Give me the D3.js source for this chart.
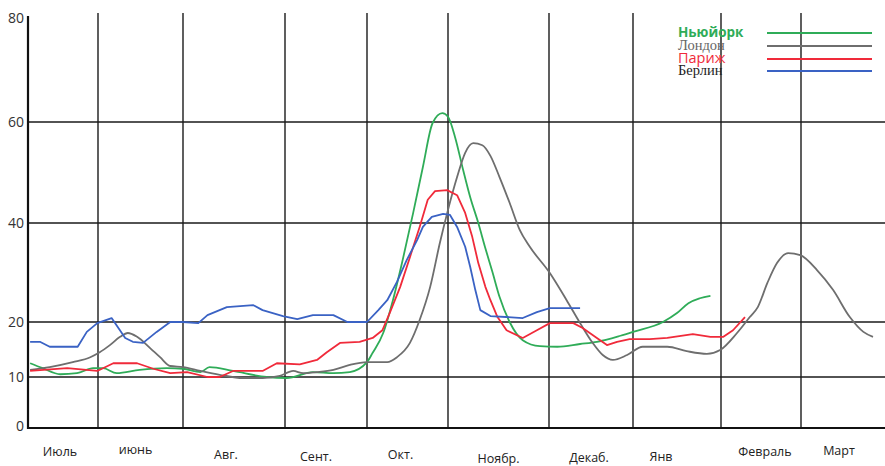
<!DOCTYPE html>
<html>
<head>
<meta charset="utf-8">
<script src="https://cdn.jsdelivr.net/npm/d3@7"></script>
<style>
  html, body { margin: 0; padding: 0; background: #fff; }
  svg { display: block; }
</style>
</head>
<body>
<svg id="chart" width="885" height="466"></svg>
<script>
// ---------- DATA ----------
const months = ["Июль", "июнь", "Авг.", "Сент.", "Окт.", "Ноябр.", "Декаб.", "Янв", "Февраль", "Март"];
const yTicks = [0, 10, 20, 40, 60, 80];
const seriesNames = ["Ньюйорк", "Лондон", "Париж", "Берлин"];

// [month position, value]
const newYork = [[0.03,12.5],[0.21,11.6],[0.46,10.5],[0.70,10.7],[0.93,11.6],[1.06,11.6],[1.22,10.7],[1.49,11.3],[1.81,11.6],[2.00,11.5],[2.17,10.9],[2.26,11.8],[2.49,11.1],[2.82,10],[3.02,9.8],[3.34,10.9],[3.59,10.7],[3.79,10.9],[4.00,12.7],[4.07,14.4],[4.20,18.0],[4.32,24.4],[4.44,32.5],[4.57,42.0],[4.69,51.1],[4.81,59.8],[4.93,61.7],[5.00,61.0],[5.07,57.0],[5.15,50.5],[5.22,45.1],[5.30,40],[5.37,34.9],[5.44,30.1],[5.51,25.1],[5.61,20],[5.74,16.7],[5.91,15.6],[6.10,15.5],[6.37,16.0],[6.57,16.4],[6.85,17.5],[7.00,18.2],[7.34,20],[7.50,21.8],[7.63,23.8],[7.76,24.8],[7.88,25.3]];
const london = [[0.03,11.3],[0.31,11.8],[0.64,12.7],[0.89,13.6],[1.02,14.5],[1.14,15.8],[1.26,17.3],[1.35,18.0],[1.46,17.3],[1.61,15.3],[1.73,13.6],[1.85,12.0],[2.00,11.8],[2.17,11.1],[2.36,10.4],[2.59,9.8],[2.78,9.8],[2.95,10.2],[3.10,11.1],[3.22,10.7],[3.39,10.9],[3.59,11.3],[3.79,12.2],[4.00,12.7],[4.25,12.7],[4.37,13.6],[4.53,16.2],[4.65,20.4],[4.78,27.1],[4.90,36.0],[5.00,42.6],[5.09,49.1],[5.17,53.9],[5.25,55.8],[5.34,55.4],[5.42,53.3],[5.51,49.1],[5.61,44.0],[5.71,38.6],[5.81,35.2],[6.01,29.9],[6.21,24.4],[6.37,19.8],[6.52,16.2],[6.64,14.0],[6.76,13.1],[6.93,14.0],[7.11,15.5],[7.39,15.5],[7.61,14.7],[7.84,14.2],[7.99,14.9],[8.20,18.0],[8.36,21.0],[8.46,23.0],[8.58,27.9],[8.70,31.9],[8.84,33.9],[8.99,33.5],[9.20,30.5],[9.40,26.5],[9.61,21.0],[9.78,18.2],[9.90,17.3]];
const paris = [[0.03,11.1],[0.56,11.6],[0.99,11.1],[1.18,12.5],[1.46,12.5],[1.65,11.5],[1.85,10.7],[2.04,10.9],[2.24,10],[2.36,10],[2.49,11.1],[2.78,11.1],[2.92,12.5],[3.18,12.3],[3.39,13.1],[3.51,14.5],[3.67,16.2],[3.91,16.4],[4.07,17.1],[4.19,18.5],[4.28,21.8],[4.41,27.1],[4.53,33.1],[4.65,39.2],[4.75,44.6],[4.84,46.3],[4.99,46.5],[5.09,45.5],[5.17,42.0],[5.24,37.2],[5.30,31.9],[5.37,27.1],[5.42,24.4],[5.49,21.0],[5.58,18.5],[5.74,17.1],[5.88,18.5],[6.01,19.8],[6.29,19.8],[6.40,18.9],[6.57,17.1],[6.69,15.8],[6.81,16.4],[6.96,16.9],[7.19,16.9],[7.39,17.1],[7.68,17.8],[7.88,17.3],[8.03,17.3],[8.15,18.5],[8.30,21.0]];
const berlin = [[0.03,16.4],[0.17,16.4],[0.31,15.5],[0.71,15.5],[0.84,18.2],[0.99,19.8],[1.16,20.8],[1.32,17.1],[1.41,16.4],[1.53,16.2],[1.69,18.2],[1.85,20],[2.00,20],[2.15,19.8],[2.24,21.4],[2.43,23.0],[2.69,23.4],[2.78,22.4],[2.98,21.2],[3.15,20.6],[3.34,21.4],[3.59,21.4],[3.76,20],[4.00,20],[4.14,22.4],[4.25,24.4],[4.37,28.1],[4.49,32.5],[4.62,36.6],[4.69,39.2],[4.80,41.2],[4.94,41.8],[5.02,41.6],[5.09,39.2],[5.17,35.2],[5.22,31.1],[5.27,26.5],[5.32,22.4],[5.42,21.2],[5.74,20.8],[5.88,22.0],[6.01,22.8],[6.37,22.8]];

// ---------- LAYOUT / STYLE ----------
const svg = d3.select("#chart");
const x = d3.scaleLinear()
  .domain(d3.range(0, 11))
  .range([28, 98, 183, 285, 367, 448, 549, 633, 721, 801, 881]);
const y = d3.scaleLinear()
  .domain([0, 10, 20, 40, 60, 80])
  .range([428, 377, 322, 223, 122, 18]);

const seriesData = [newYork, london, paris, berlin];
const colors = ["#2fac58", "#6e6e6e", "#f02a3a", "#3a62c4"];
const legendTextColors = ["#2fac58", "#666666", "#f02a3a", "#222222"];
const legendFonts = ["'Open Sans', sans-serif", "'Liberation Serif', serif", "'Open Sans', sans-serif", "'Liberation Serif', serif"];
const curves = [d3.curveMonotoneX, d3.curveMonotoneX, d3.curveLinear, d3.curveLinear];
const labelDx = [-3, -5, -8, -10, -7, 0, -2, -16, 4, -2];
const labelDy = [0, -2, 3, 5, 3, 7, 6, 5, 0, -1];

// horizontal grid lines (except 0 and 80)
svg.append("g")
  .selectAll("line")
  .data(yTicks.filter(t => t > 0 && t < 80))
  .join("line")
  .attr("x1", x(0)).attr("x2", 885)
  .attr("y1", d => y(d)).attr("y2", d => y(d))
  .attr("stroke", "#1a1a1a").attr("stroke-width", 1.4);

// vertical grid lines
svg.append("g")
  .selectAll("line")
  .data(d3.range(1, 10))
  .join("line")
  .attr("x1", d => x(d)).attr("x2", d => x(d))
  .attr("y1", 13).attr("y2", y(0))
  .attr("stroke", "#1a1a1a").attr("stroke-width", 1.4);

// baseline + y axis line
svg.append("line")
  .attr("x1", x(0)).attr("x2", 885)
  .attr("y1", y(0)).attr("y2", y(0))
  .attr("stroke", "#111").attr("stroke-width", 2);
svg.append("line")
  .attr("x1", x(0)).attr("x2", x(0))
  .attr("y1", 16).attr("y2", y(0) + 1)
  .attr("stroke", "#111").attr("stroke-width", 2.2);

// y tick labels
svg.append("g")
  .selectAll("text")
  .data(yTicks)
  .join("text")
  .attr("x", 24)
  .attr("y", d => y(d) + (d === 0 ? -2 : 0))
  .attr("dy", "0.35em")
  .attr("text-anchor", "end")
  .attr("font-family", "'Open Sans', sans-serif")
  .attr("font-size", 14)
  .attr("fill", "#333")
  .text(d => d);

// x labels
svg.append("g")
  .selectAll("text")
  .data(months)
  .join("text")
  .attr("x", (d, i) => (x(i) + x(i + 1)) / 2 + labelDx[i])
  .attr("y", (d, i) => 456 + labelDy[i])
  .attr("text-anchor", "middle")
  .attr("font-family", "'Open Sans', sans-serif")
  .attr("font-size", 12.5)
  .attr("fill", "#222")
  .text(d => d);

// series lines
seriesData.forEach((data, i) => {
  const line = d3.line()
    .x(d => x(d[0]))
    .y(d => y(d[1]))
    .curve(curves[i]);
  svg.append("path")
    .datum(data)
    .attr("fill", "none")
    .attr("stroke", colors[i])
    .attr("stroke-width", 1.8)
    .attr("stroke-linejoin", "round")
    .attr("d", line);
});

// legend
const legend = svg.append("g");
const legendY = [33, 46, 59, 71];
seriesNames.forEach((name, i) => {
  legend.append("line")
    .attr("x1", 767).attr("x2", 872)
    .attr("y1", legendY[i]).attr("y2", legendY[i])
    .attr("stroke", colors[i]).attr("stroke-width", 1.8);
  legend.append("text")
    .attr("x", 678)
    .attr("y", legendY[i] + 4)
    .attr("font-family", legendFonts[i])
    .attr("font-size", i === 0 ? 13.5 : 14.5)
    .attr("font-weight", i === 0 ? "bold" : "normal")
    .attr("fill", legendTextColors[i])
    .text(name);
});
</script>
</body>
</html>
